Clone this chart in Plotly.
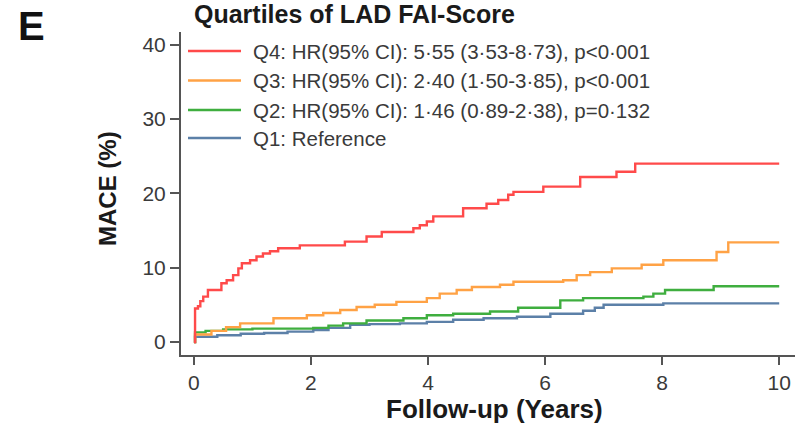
import plotly.graph_objects as go

# ---- data ----
q4_t = [0, 0.02, 0.07, 0.11, 0.16, 0.24, 0.39, 0.47, 0.56, 0.67, 0.76, 0.82, 0.96, 1.07, 1.18, 1.30, 1.44, 1.81,
        2.58, 2.95, 3.21, 3.75, 3.86, 3.98, 4.09, 4.60, 5.00, 5.20, 5.37, 5.46, 5.97, 6.60, 7.22, 7.54, 10.0]
q4_v = [0, 4.5, 4.8, 5.5, 6.1, 7.0, 7.0, 7.9, 8.3, 9.0, 9.9, 10.6, 11.0, 11.5, 11.9, 12.2, 12.6, 13.0,
        13.5, 14.2, 14.8, 15.3, 15.7, 16.2, 16.9, 18.0, 18.6, 19.1, 19.8, 20.2, 20.9, 22.2, 22.9, 24.0, 24.0]

q3_t = [0, 0.02, 0.3, 0.55, 0.79, 1.36, 1.93, 2.21, 2.5, 2.78, 3.09, 3.46, 3.98, 4.2, 4.49, 4.75, 5.23, 5.46,
        6.31, 6.54, 6.77, 7.14, 7.65, 8.02, 8.93, 9.13, 10.0]
q3_v = [0, 1.0, 1.5, 2.0, 2.5, 3.2, 3.6, 3.9, 4.3, 4.7, 5.0, 5.4, 5.9, 6.5, 7.0, 7.4, 7.7, 8.1,
        8.3, 9.0, 9.4, 9.9, 10.4, 11.0, 12.1, 13.4, 13.4]

q2_t = [0, 0.02, 0.2, 0.5, 1.0, 2.04, 2.3, 2.55, 2.95, 3.58, 3.98, 4.43, 5.06, 5.54, 6.26, 6.65, 7.68, 7.85,
        8.05, 8.88, 10.0]
q2_v = [0, 1.3, 1.5, 1.7, 1.8, 1.9, 2.2, 2.5, 2.9, 3.2, 3.6, 3.8, 4.1, 4.6, 5.6, 5.9, 6.1, 6.5,
        7.0, 7.5, 7.5]

q1_t = [0, 0.02, 0.4, 0.8, 1.2, 1.6, 2.04, 2.3, 2.67, 3.0, 3.52, 3.98, 4.43, 4.95, 5.52, 6.09, 6.65, 6.85,
        7.0, 8.02, 10.0]
q1_v = [0, 0.7, 0.9, 1.1, 1.2, 1.4, 1.6, 1.9, 2.3, 2.4, 2.5, 2.7, 3.0, 3.2, 3.4, 3.8, 4.2, 4.6,
        5.0, 5.2, 5.2]

labels = [
    "Q4: HR(95% CI): 5·55 (3·53-8·73), p<0·001",
    "Q3: HR(95% CI): 2·40 (1·50-3·85), p<0·001",
    "Q2: HR(95% CI): 1·46 (0·89-2·38), p=0·132",
    "Q1: Reference",
]
colors = ["#ff4a4a", "#ffa245", "#3fae3f", "#5c80a8"]

x_ticks = [0, 2, 4, 6, 8, 10]
y_ticks = [0, 10, 20, 30, 40]

series = [(q4_t, q4_v), (q3_t, q3_v), (q2_t, q2_v), (q1_t, q1_v)]

# ---- layout geometry (pixels) ----
W, H = 799, 426
L, R, T, B = 181, 4, 32, 71
pw, ph = W - L - R, H - T - B

def px(x):
    return (x - L) / pw

def py(y):
    return (H - B - y) / ph

fig = go.Figure()
# draw Q1 first so Q4 lies on top
for (t, v), lab, c in reversed(list(zip(series, labels, colors))):
    fig.add_trace(go.Scatter(x=t, y=v, mode="lines", line=dict(color=c, width=2.4, shape="hv"),
                             name=lab, showlegend=False, hoverinfo="skip"))

axis_color = "#555555"
FONT = "Liberation Sans, Arial, sans-serif"
tick_font = dict(family=FONT, size=21, color="#3a3a3a")

fig.update_layout(
    width=W, height=H,
    margin=dict(l=L, r=R, t=T, b=B, pad=0),
    paper_bgcolor="white", plot_bgcolor="white",
    xaxis=dict(range=[-0.22, 10.27], tickvals=x_ticks, ticktext=[str(v) for v in x_ticks],
               showgrid=False, zeroline=False, showline=True, linecolor=axis_color, linewidth=2,
               ticks="outside", ticklen=8, tickwidth=2, tickcolor=axis_color, tickfont=tick_font),
    yaxis=dict(range=[-1.75, 41.7], tickvals=y_ticks, ticktext=[str(v) for v in y_ticks],
               showgrid=False, zeroline=False, showline=True, linecolor=axis_color, linewidth=2,
               ticks="outside", ticklen=9, tickwidth=2, tickcolor=axis_color, tickfont=tick_font),
    showlegend=False,
)

ann = [
    dict(text="<b>E</b>", x=px(16), y=py(26), xanchor="left", yanchor="middle",
         font=dict(family=FONT, size=40, color="#111111")),
    dict(text="<b>Quartiles of LAD FAI-Score</b>", x=px(192), y=py(14), xanchor="left", yanchor="middle",
         font=dict(family=FONT, size=25, color="#1a1a1a")),
    dict(text="<b>Follow-up (Years)</b>", x=px(494), y=py(409), xanchor="center", yanchor="middle",
         font=dict(family=FONT, size=26, color="#1a1a1a")),
    dict(text="<b>MACE (%)</b>", x=px(108), y=py(189), xanchor="center", yanchor="middle", textangle=-90,
         font=dict(family=FONT, size=24, color="#1a1a1a")),
]

rows = [51, 80.5, 110, 138]
shapes = []
for lab, c, r in zip(labels, colors, rows):
    shapes.append(dict(type="line", xref="paper", yref="paper", x0=px(188), x1=px(241), y0=py(r), y1=py(r),
                       line=dict(color=c, width=2.5)))
    ann.append(dict(text=lab, x=px(251), y=py(r), xanchor="left", yanchor="middle",
                    font=dict(family=FONT, size=20.5, color="#3a3a3a")))

for a in ann:
    a.update(xref="paper", yref="paper", showarrow=False)
fig.update_layout(annotations=ann, shapes=shapes)

fig.write_html("out.html", config={"displayModeBar": False, "staticPlot": True},
               post_script="document.body.style.margin='0';document.body.style.overflow='hidden';")
